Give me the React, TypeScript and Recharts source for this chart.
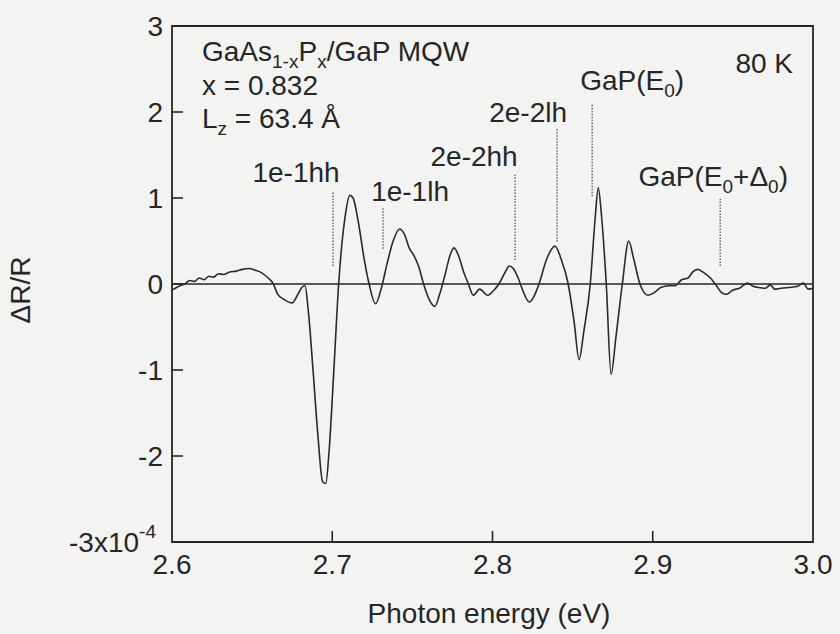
import React from 'react';
import { LineChart, Line, XAxis, YAxis, ReferenceLine, ReferenceArea, ReferenceDot } from 'recharts';

// photon energy (eV) and ΔR/R (x10^-4) at 80 K
const energy = [
  2.600, 2.601, 2.605, 2.608, 2.611, 2.614, 2.617, 2.620, 2.623, 2.626,
  2.629, 2.632, 2.636, 2.640, 2.644, 2.648, 2.652, 2.656, 2.660, 2.663,
  2.666, 2.670, 2.675, 2.678, 2.681, 2.683, 2.685, 2.688, 2.691, 2.694,
  2.696, 2.698, 2.701, 2.704, 2.708, 2.711, 2.713, 2.716, 2.720, 2.723,
  2.727, 2.731, 2.734, 2.738, 2.742, 2.745, 2.748, 2.751, 2.754, 2.757,
  2.761, 2.764, 2.767, 2.770, 2.774, 2.776, 2.779, 2.782, 2.785, 2.788,
  2.792, 2.797, 2.801, 2.804, 2.808, 2.8105, 2.813, 2.816, 2.819, 2.823,
  2.826, 2.829, 2.834, 2.839, 2.843, 2.847, 2.851, 2.854, 2.857, 2.861,
  2.864, 2.866, 2.868, 2.871, 2.874, 2.877, 2.881, 2.885, 2.888, 2.892,
  2.897, 2.901, 2.905, 2.910, 2.914, 2.918, 2.922, 2.925, 2.928, 2.932,
  2.936, 2.939, 2.943, 2.946, 2.950, 2.954, 2.959, 2.963, 2.966, 2.970,
  2.9735, 2.976, 2.980, 2.985, 2.990, 2.994, 2.997, 3.000,
];
const deltaR = [
  -0.07, -0.06, -0.02, 0.00, 0.04, 0.03, 0.07, 0.05, 0.09, 0.08,
  0.12, 0.11, 0.14, 0.15, 0.17, 0.18, 0.16, 0.13, 0.07, 0.01,
  -0.12, -0.18, -0.22, -0.14, -0.04, -0.02, -0.30, -1.00, -1.75, -2.30,
  -2.32, -1.95, -1.00, 0.00, 0.78, 1.03, 1.00, 0.75, 0.28, 0.00,
  -0.23, -0.02, 0.22, 0.50, 0.64, 0.58, 0.42, 0.33, 0.20, 0.00,
  -0.20, -0.26, -0.12, 0.08, 0.36, 0.42, 0.32, 0.14, 0.00, -0.13,
  -0.06, -0.13, -0.07, 0.00, 0.14, 0.21, 0.18, 0.07, -0.08, -0.21,
  -0.14, 0.00, 0.30, 0.44, 0.28, 0.02, -0.45, -0.88, -0.55, 0.00,
  0.75, 1.12, 0.80, 0.00, -1.05, -0.62, 0.00, 0.50, 0.30, 0.00,
  -0.13, -0.10, -0.04, -0.02, -0.02, 0.05, 0.07, 0.14, 0.17, 0.13,
  0.07, 0.00, -0.10, -0.12, -0.07, -0.05, 0.01, -0.03, -0.04, -0.05,
  -0.01, -0.06, -0.05, -0.04, -0.03, 0.01, -0.06, -0.05,
];

const xTicks = [2.6, 2.7, 2.8, 2.9, 3.0];
const yTicks = [-3, -2, -1, 0, 1, 2, 3];

// transition markers: label (text / subscript pieces), energy, bottom and top of the dotted line
const markerNames: [string, boolean][][] = [
  [['1e-1hh', false]],
  [['1e-1lh', false]],
  [['2e-2hh', false]],
  [['2e-2lh', false]],
  [['GaP(E', false], ['0', true], [')', false]],
  [['GaP(E', false], ['0', true], ['+Δ', false], ['0', true], [')', false]],
];
const markerEnergy = [2.7005, 2.7317, 2.8141, 2.8403, 2.8622, 2.9421];
const markerLow = [0.21, 0.41, 0.28, 0.49, 1.02, 0.21];
const markerHigh = [1.07, 0.88, 1.27, 1.80, 2.10, 0.99];

// label placement relative to the top of each marker (px)
const labelDx = [-37, 27, -41, -29, 40, -7];
const labelDy = [-10, -7, -9, -7, -13, -13];

const data = energy.map((e, i) => ({ e, r: deltaR[i] }));

const INK = '#262626';
const FONT = '"Liberation Sans", Arial, Helvetica, sans-serif';
const FS = 28;
const SUB = 19;

// text pieces with subscripts, each piece is [text, isSub]
const rich = (parts: [string, boolean][]) => {
  let prevSub = false;
  return parts.map(([t, sub], k) => {
    const dy = sub && !prevSub ? 7 : !sub && prevSub ? -7 : 0;
    prevSub = sub;
    return (
      <tspan key={k} dy={dy} fontSize={sub ? SUB : FS}>
        {t}
      </tspan>
    );
  });
};

const XTick = ({ x, y, payload }: any) => {
  const v = payload.value;
  const edge = v === 2.6 || v === 3.0;
  return (
    <g>
      {!edge && <line x1={x} x2={x} y1={y} y2={y - 11} stroke={INK} strokeWidth={1.6} />}
      <text x={x} y={y + 32} textAnchor="middle" fontSize={FS} fontFamily={FONT} fill={INK}>
        {v.toFixed(1)}
      </text>
    </g>
  );
};

const YTick = ({ x, y, payload }: any) => {
  const v = payload.value;
  const edge = v === 3 || v === -3;
  return (
    <g>
      {!edge && <line x1={x} x2={x + 11} y1={y} y2={y} stroke={INK} strokeWidth={1.6} />}
      {v === -3 ? (
        <text x={x - 16} y={y + 10} textAnchor="end" fontSize={FS} fontFamily={FONT} fill={INK}>
          <tspan>-3x10</tspan>
          <tspan dy={-14} fontSize={SUB}>-4</tspan>
        </text>
      ) : (
        <text x={x - 9} y={y + 10} textAnchor="end" fontSize={FS} fontFamily={FONT} fill={INK}>
          {v}
        </text>
      )}
    </g>
  );
};

const App = () => {
  return (
    <div
      style={{
        position: 'absolute',
        left: 0,
        top: 0,
        width: 840,
        height: 634,
        background: '#f3f3f1',
        fontFamily: FONT,
      }}
    >
      <LineChart width={840} height={634} data={data} margin={{ top: 26, right: 27, bottom: 52, left: 112 }}>
        <XAxis
          type="number"
          dataKey="e"
          domain={[2.6, 3.0]}
          ticks={xTicks}
          axisLine={false}
          tickLine={false}
          tickSize={0}
          tickMargin={0}
          height={40}
          tick={<XTick />}
          interval={0}
        />
        <YAxis
          type="number"
          domain={[-3, 3]}
          ticks={yTicks}
          axisLine={false}
          tickLine={false}
          tickSize={0}
          tickMargin={0}
          width={60}
          tick={<YTick />}
          interval={0}
        />
        <ReferenceArea x1={2.6} x2={3.0} y1={-3} y2={3} fill="none" stroke={INK} strokeWidth={1.8} />
        <ReferenceLine y={0} stroke={INK} strokeWidth={1.6} />

        {markerNames.map((_, i) => (
          <ReferenceLine
            key={'m' + i}
            segment={[
              { x: markerEnergy[i], y: markerLow[i] },
              { x: markerEnergy[i], y: markerHigh[i] },
            ]}
            stroke="#555"
            strokeWidth={1.3}
            strokeDasharray="1.5 1.5"
          />
        ))}
        {markerNames.map((parts, i) => (
          <ReferenceDot
            key={'lbl' + i}
            x={markerEnergy[i]}
            y={markerHigh[i]}
            r={0}
            fill="none"
            stroke="none"
            label={({ viewBox }: any) => (
              <text
                x={viewBox.x + viewBox.width / 2 + labelDx[i]}
                y={viewBox.y + viewBox.height / 2 + labelDy[i]}
                textAnchor="middle"
                fontSize={FS}
                fontFamily={FONT}
                fill={INK}
              >
                {rich(parts)}
              </text>
            )}
          />
        ))}

        <Line
          type="monotone"
          dataKey="r"
          stroke="#2a2a2a"
          strokeWidth={1.6}
          dot={false}
          isAnimationActive={false}
        />
      </LineChart>

      <svg
        width={840}
        height={634}
        style={{ position: 'absolute', left: 0, top: 0, pointerEvents: 'none' }}
        fontFamily={FONT}
        fontSize={FS}
        fill={INK}
      >
        <text x={202} y={61}>
          {rich([['GaAs', false], ['1-x', true], ['P', false], ['x', true], ['/GaP MQW', false]])}
        </text>
        <text x={202} y={95}>x = 0.832</text>
        <text x={202} y={128}>
          {rich([['L', false], ['z', true], [' = 63.4 Å', false]])}
        </text>
        <text x={793} y={73} textAnchor="end">80 K</text>
        <text x={489} y={623} textAnchor="middle">Photon energy (eV)</text>
        <text x={30} y={290} textAnchor="middle" transform="rotate(-90 30 290)">ΔR/R</text>
      </svg>
    </div>
  );
};

export default App;
